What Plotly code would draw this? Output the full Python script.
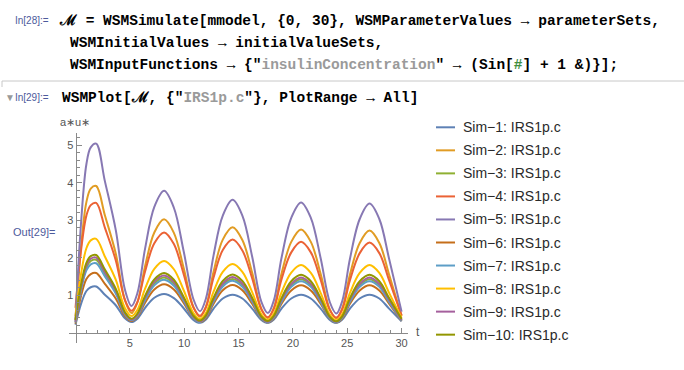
import plotly.graph_objects as go

# ---------------- data ----------------
t = [0, 0.5, 1.0, 1.4, 1.9, 2.7, 3.7, 4.55, 5.15, 5.7, 6.4, 7.25, 8.15, 9.05, 9.95,
     10.85, 11.45, 12.0, 12.7, 13.55, 14.45, 15.35, 16.25, 17.1, 17.7, 18.25, 18.95,
     19.85, 20.75, 21.65, 22.55, 23.4, 24.0, 24.55, 25.25, 26.15, 27.05, 27.95, 28.85, 30.0]

sim1 = [0.22, 0.77, 1.12, 1.22, 1.24, 1.02, 0.74, 0.39, 0.29, 0.38, 0.67, 0.94, 1.04, 0.93,
        0.66, 0.35, 0.27, 0.36, 0.65, 0.92, 1.02, 0.92, 0.65, 0.35, 0.27, 0.36, 0.65, 0.92,
        1.02, 0.92, 0.65, 0.35, 0.27, 0.36, 0.65, 0.92, 1.02, 0.92, 0.65, 0.31]
sim2 = [0.35, 2.28, 3.49, 3.85, 3.92, 3.14, 2.12, 0.87, 0.53, 0.82, 1.78, 2.68, 3.03, 2.67,
        1.73, 0.69, 0.43, 0.70, 1.63, 2.49, 2.82, 2.48, 1.61, 0.64, 0.40, 0.67, 1.58, 2.43,
        2.76, 2.43, 1.58, 0.63, 0.39, 0.66, 1.56, 2.40, 2.73, 2.40, 1.56, 0.45]
sim3 = [0.30, 1.19, 1.75, 1.92, 1.95, 1.58, 1.10, 0.51, 0.35, 0.48, 0.92, 1.32, 1.48, 1.31,
        0.89, 0.42, 0.30, 0.43, 0.87, 1.28, 1.44, 1.28, 0.87, 0.41, 0.29, 0.42, 0.86, 1.27,
        1.43, 1.27, 0.86, 0.41, 0.29, 0.42, 0.86, 1.27, 1.43, 1.27, 0.86, 0.34]
sim4 = [0.67, 2.18, 3.13, 3.41, 3.47, 2.81, 1.94, 0.88, 0.59, 0.83, 1.64, 2.39, 2.68, 2.37,
        1.57, 0.68, 0.46, 0.69, 1.48, 2.21, 2.49, 2.20, 1.46, 0.63, 0.42, 0.65, 1.43, 2.15,
        2.43, 2.15, 1.42, 0.61, 0.41, 0.64, 1.41, 2.13, 2.41, 2.13, 1.41, 0.47]
sim5 = [0.35, 2.90, 4.50, 4.95, 5.05, 4.05, 2.75, 1.15, 0.72, 1.07, 2.25, 3.36, 3.79, 3.34,
        2.18, 0.90, 0.58, 0.92, 2.07, 3.13, 3.55, 3.13, 2.04, 0.83, 0.53, 0.87, 2.00, 3.07,
        3.48, 3.07, 2.00, 0.82, 0.52, 0.86, 1.98, 3.04, 3.45, 3.04, 1.98, 0.57]
sim6 = [0.25, 0.98, 1.44, 1.57, 1.60, 1.31, 0.92, 0.45, 0.32, 0.43, 0.81, 1.16, 1.30, 1.16,
        0.80, 0.39, 0.29, 0.40, 0.78, 1.14, 1.28, 1.14, 0.78, 0.38, 0.28, 0.39, 0.78, 1.13,
        1.27, 1.13, 0.78, 0.38, 0.28, 0.39, 0.78, 1.13, 1.27, 1.13, 0.78, 0.32]
sim7 = [0.28, 1.13, 1.67, 1.83, 1.86, 1.51, 1.05, 0.49, 0.34, 0.46, 0.88, 1.27, 1.42, 1.26,
        0.86, 0.40, 0.29, 0.42, 0.84, 1.24, 1.39, 1.23, 0.84, 0.39, 0.28, 0.41, 0.83, 1.23,
        1.38, 1.23, 0.83, 0.39, 0.28, 0.41, 0.83, 1.23, 1.38, 1.23, 0.83, 0.33]
sim8 = [0.45, 1.56, 2.26, 2.47, 2.51, 2.04, 1.42, 0.66, 0.45, 0.62, 1.18, 1.71, 1.92, 1.70,
        1.14, 0.53, 0.37, 0.54, 1.10, 1.63, 1.84, 1.63, 1.09, 0.50, 0.35, 0.52, 1.08, 1.61,
        1.81, 1.60, 1.07, 0.49, 0.34, 0.51, 1.07, 1.60, 1.81, 1.60, 1.07, 0.40]
sim9 = [0.30, 1.22, 1.80, 1.98, 2.01, 1.63, 1.14, 0.53, 0.36, 0.49, 0.95, 1.37, 1.53, 1.36,
        0.92, 0.43, 0.31, 0.45, 0.90, 1.32, 1.49, 1.32, 0.90, 0.42, 0.30, 0.44, 0.89, 1.31,
        1.48, 1.31, 0.89, 0.42, 0.30, 0.44, 0.89, 1.31, 1.48, 1.31, 0.89, 0.35]
sim10 = [0.35, 1.28, 1.87, 2.05, 2.08, 1.69, 1.18, 0.55, 0.38, 0.52, 0.99, 1.43, 1.60, 1.42,
         0.96, 0.46, 0.33, 0.47, 0.94, 1.39, 1.56, 1.39, 0.94, 0.44, 0.32, 0.46, 0.93, 1.38,
         1.55, 1.38, 0.93, 0.43, 0.31, 0.45, 0.93, 1.38, 1.55, 1.38, 0.93, 0.37]

series = [sim1, sim2, sim3, sim4, sim5, sim6, sim7, sim8, sim9, sim10]
names = ["Sim\u22121: IRS1p.c", "Sim\u22122: IRS1p.c", "Sim\u22123: IRS1p.c",
         "Sim\u22124: IRS1p.c", "Sim\u22125: IRS1p.c", "Sim\u22126: IRS1p.c",
         "Sim\u22127: IRS1p.c", "Sim\u22128: IRS1p.c", "Sim\u22129: IRS1p.c",
         "Sim\u221210: IRS1p.c"]
colors = ["#5E81B5", "#E19C24", "#8FB032", "#EB6235", "#8778B3",
          "#C56E1A", "#5D9EC7", "#FFBF00", "#A5609D", "#929600"]

x_major = [5, 10, 15, 20, 25, 30]
x_minor = [v for v in range(1, 31) if v % 5 != 0]
y_major = [1, 2, 3, 4, 5]
y_minor = [round(0.2 * k, 1) for k in range(1, 27) if k % 5 != 0]

# ---------------- layout geometry (pixels) ----------------
W, H = 684, 370
L, R, T, B = 69, 408, 133, 343
XR = [-0.6, 30.59]
YR = [-0.267, 5.333]


def px(x, y):
    return (x - L) / (R - L), (B - y) / (B - T)


fig = go.Figure()
for s, n, c in zip(series, names, colors):
    fig.add_trace(go.Scatter(x=t, y=s, name=n, mode="lines",
                             line=dict(color=c, width=2, shape="spline", smoothing=1.0),
                             showlegend=False))

axis_col = "#8a8a8a"
lab_col = "#555555"
fig.update_layout(
    width=W, height=H,
    margin=dict(l=L, r=W - R, t=T, b=H - B, pad=0),
    paper_bgcolor="white", plot_bgcolor="white",
    font=dict(family="Liberation Sans, Arial, sans-serif", size=11, color=lab_col),
    xaxis=dict(range=XR, domain=[0, 1], anchor="free",
               position=(0 - YR[0]) / (YR[1] - YR[0]),
               showline=True, linecolor=axis_col, linewidth=1,
               showgrid=False, zeroline=False,
               ticks="inside", ticklen=5, tickcolor=axis_col, tickwidth=1,
               tickvals=x_major, ticktext=[str(v) for v in x_major],
               minor=dict(tickvals=x_minor, ticks="inside", ticklen=3,
                          tickcolor=axis_col, showgrid=False),
               tickfont=dict(size=11, color=lab_col)),
    yaxis=dict(range=YR, domain=[0, 1], anchor="free",
               position=(0 - XR[0]) / (XR[1] - XR[0]),
               showline=True, linecolor=axis_col, linewidth=1,
               showgrid=False, zeroline=False,
               ticks="inside", ticklen=5, tickcolor=axis_col, tickwidth=1,
               tickvals=y_major, ticktext=[str(v) for v in y_major],
               minor=dict(tickvals=y_minor, ticks="inside", ticklen=3,
                          tickcolor=axis_col, showgrid=False),
               tickfont=dict(size=11, color=lab_col)),
)

ann = []
shapes = []


def text_at(x, y, txt, size, color, family, xanchor="left"):
    xp, yp = px(x, y)
    ann.append(dict(x=xp, y=yp, xref="paper", yref="paper", text=txt,
                    showarrow=False, xanchor=xanchor, yanchor="middle",
                    font=dict(size=size, color=color, family=family)))


mono = "Liberation Mono, Courier New, monospace"
sans = "Liberation Sans, Arial, sans-serif"
lbl_col = "#4d5a9c"
grey_str = "#9a9a9a"

# notebook input cells
text_at(13, 20.7, "In[28]:=", 10, lbl_col, sans)
text_at(57, 20.7, "<b>\u2133 = WSMSimulate[mmodel, {0, 30}, WSMParameterValues \u2192 parameterSets,</b>",
        14.5, "#000000", mono)
text_at(68, 42.7, "<b>WSMInitialValues \u2192 initialValueSets,</b>", 14.5, "#000000", mono)
text_at(68, 64.5,
        "<b>WSMInputFunctions \u2192 {\"<span style='color:%s'>insulinConcentration</span>\" \u2192 "
        "(Sin[<span style='color:#3f8f3f'>#</span>] + 1 &amp;)}];</b>" % grey_str,
        14.5, "#000000", mono)
text_at(3, 98, "<span style='color:#999999'>\u25bc</span>In[29]:=", 10, lbl_col, sans)
text_at(60, 98,
        "<b>WSMPlot[\u2133, {\"<span style='color:%s'>IRS1p.c</span>\"}, PlotRange \u2192 All]</b>" % grey_str,
        14.5, "#000000", mono)
text_at(11, 231.7, "Out[29]=", 11, lbl_col, sans)

# cell divider
for (x0, y0, x1, y1) in [(2, 81, 684, 81), (2, 81, 2, 87)]:
    a0 = px(x0, y0)
    a1 = px(x1, y1)
    shapes.append(dict(type="line", xref="paper", yref="paper", x0=a0[0], y0=a0[1],
                       x1=a1[0], y1=a1[1], line=dict(color="#c8c8c8", width=1)))

# axis labels
text_at(75, 121.5, "a\u2217u\u2217", 11, lab_col, sans, xanchor="center")
text_at(414, 332, "t", 12, lab_col, sans)

# legend
for i, (n, c) in enumerate(zip(names, colors)):
    y = 127.3 + 23.04 * i
    a0 = px(436, y)
    a1 = px(455, y)
    shapes.append(dict(type="line", xref="paper", yref="paper", x0=a0[0], y0=a0[1],
                       x1=a1[0], y1=a1[1], line=dict(color=c, width=2)))
    text_at(461, y, n, 14, "#2a2a2a", sans)

fig.update_layout(annotations=ann, shapes=shapes)
fig.write_html("out.html", config={"displayModeBar": False},
               post_script="document.body.style.margin='0';document.body.style.overflow='hidden';")
